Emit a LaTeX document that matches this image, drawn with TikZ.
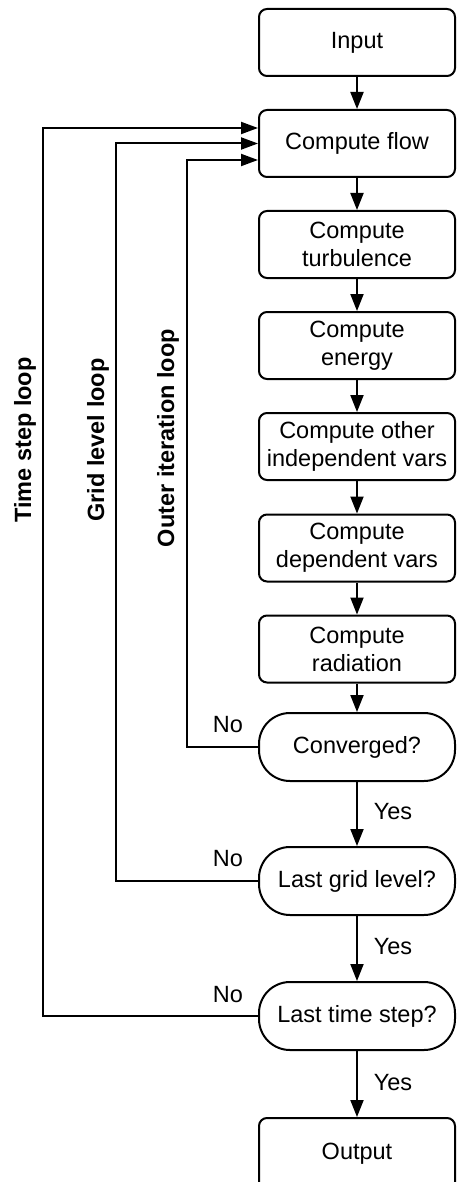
\documentclass[tikz,border=0pt]{standalone}
\usepackage{fontspec}
\setmainfont{Liberation Sans}
\usetikzlibrary{arrows.meta,positioning}
\newcommand{\chartfont}{\fontsize{23.5}{28}\selectfont}
\begin{document}
\begin{tikzpicture}[x=1pt,y=-1pt,
  proc/.style={draw, line width=2pt, rounded corners=8pt, minimum width=196pt,
    minimum height=67pt, align=center, inner sep=0pt, font=\chartfont},
  dec/.style={draw, line width=2pt, rounded corners=31pt, minimum width=196pt,
    minimum height=68pt, align=center, inner sep=0pt, font=\chartfont},
  flowline/.style={line width=2pt, -{Triangle[length=17pt,width=13pt]}},
  loopline/.style={line width=2pt, -{Triangle[length=17pt,width=12pt]}},
  lbl/.style={font=\chartfont, inner sep=0pt},
  looplbl/.style={font=\chartfont\bfseries, rotate=90, inner sep=0pt}]
\useasboundingbox (0,0) rectangle (457,1182);

% main column
\node[proc] (input) at (357,42.5) {Input};
\node[proc] (flow)  at (357,143.5) {Compute flow};
\node[proc] (turb)  at (357,244.5) {Compute\\turbulence};
\node[proc] (energy) at (357,345.5) {Compute\\energy};
\node[proc] (other) at (357,446.5) {Compute other\\independent vars};
\node[proc] (dep)   at (357,548) {Compute\\dependent vars};
\node[proc] (rad)   at (357,649) {Compute\\radiation};
\node[dec]  (conv)  at (357,747) {Converged?};
\node[dec]  (grid)  at (357,881) {Last grid level?};
\node[dec]  (tstep) at (357,1016) {Last time step?};
\node[proc, minimum height=72pt] (output) at (357,1154) {Output};

% forward connectors
\draw[flowline] (input) -- (flow);
\draw[flowline] (flow) -- (turb);
\draw[flowline] (turb) -- (energy);
\draw[flowline] (energy) -- (other);
\draw[flowline] (other) -- (dep);
\draw[flowline] (dep) -- (rad);
\draw[flowline] (rad) -- (conv);
\draw[flowline] (conv) -- (grid);
\draw[flowline] (grid) -- (tstep);
\draw[flowline] (tstep) -- (output);

% Yes labels
\node[lbl] at (393,812) {Yes};
\node[lbl] at (393,947) {Yes};
\node[lbl] at (393,1083) {Yes};

% feedback loops
\draw[loopline] (conv.west) -- ++(-71,0) |- ([yshift=-16.5pt]flow.west);
\draw[loopline] (grid.west) -- ++(-142,0) |- (flow.west);
\draw[loopline] (tstep.west) -- ++(-215,0) |- ([yshift=15.5pt]flow.west);

% No labels
\node[lbl] at (228,725) {No};
\node[lbl] at (228,859) {No};
\node[lbl] at (228,995) {No};

% loop names
\node[looplbl] (tsl) at (25,440) {Time step loop};
\node[looplbl] (gll) at (98,440) {Grid level loop};
\node[looplbl] (oil) at (168,438) {Outer iteration loop};
\end{tikzpicture}
\end{document}
